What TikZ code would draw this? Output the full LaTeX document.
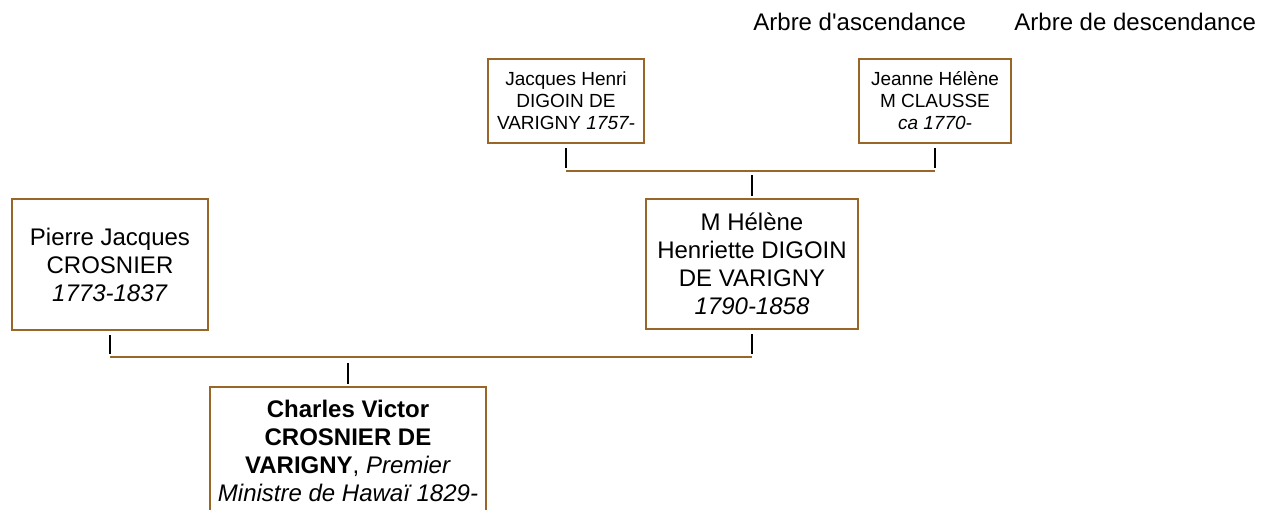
\documentclass[tikz,border=0pt]{standalone}
\usepackage{fontspec}
\setmainfont{Liberation Sans}
\usepackage{xcolor}
\definecolor{treebrown}{RGB}{153,102,40}

\begin{document}
\begin{tikzpicture}[
  x=0.5pt, y=-0.5pt,
  person/.style={draw=treebrown, line width=1pt, align=center, inner sep=0pt, font=\fontsize{12}{14}\selectfont},
  small/.style={person, font=\fontsize{9.5}{11}\selectfont},
  label/.style={anchor=base west, inner sep=0pt, font=\fontsize{12}{14}\selectfont},
  bar/.style={draw=treebrown, line width=1pt},
  tick/.style={draw=black, line width=1pt}
]
  \clip (0,0) rectangle (1272,509);

  \node[label] (asc) at (753,30) {Arbre d\textquotesingle ascendance};
  \node[label] (desc) at (1014,30) {Arbre de descendance};

  \node[small, minimum width=78pt, minimum height=42pt] (jacques) at (566,101) {Jacques Henri\\DIGOIN DE\\VARIGNY \textit{1757-}};
  \node[small, minimum width=76pt, minimum height=42pt] (jeanne) at (935,101) {Jeanne Hélène\\M CLAUSSE\\\textit{ca 1770-}};
  \node[person, minimum width=106pt, minimum height=65pt] (helene) at (752,264) {M Hélène\\Henriette DIGOIN\\DE VARIGNY\\\textit{1790-1858}};
  \node[person, minimum width=98pt, minimum height=65.5pt] (pierre) at (110,264.5) {Pierre Jacques\\CROSNIER\\\textit{1773-1837}};
  \node[person, minimum width=138pt, minimum height=64pt] (charles) at (348,451) {\textbf{Charles Victor}\\\textbf{CROSNIER DE}\\\textbf{VARIGNY}, \textit{Premier}\\\textit{Ministre de Hawaï 1829-}};

  % parents of M Helene
  \coordinate (topbar) at (752,171);
  \draw[tick] ([yshift=-2pt]jacques.south) -- ([yshift=1.5pt]jacques.south |- topbar);
  \draw[tick] ([yshift=-2pt]jeanne.south) -- ([yshift=1.5pt]jeanne.south |- topbar);
  \draw[bar] (jacques.south |- topbar) -- (jeanne.south |- topbar);
  \draw[tick] ([yshift=-2pt]helene.north |- topbar) -- ([yshift=1pt]helene.north);

  % parents of Charles
  \coordinate (lowbar) at (348,357);
  \draw[tick] ([yshift=-2pt]pierre.south) -- ([yshift=1.5pt]pierre.south |- lowbar);
  \draw[tick] ([yshift=-2pt]helene.south) -- ([yshift=1.5pt]helene.south |- lowbar);
  \draw[bar] (pierre.south |- lowbar) -- (helene.south |- lowbar);
  \draw[tick] ([yshift=-3pt]charles.north |- lowbar) -- ([yshift=1pt]charles.north);
\end{tikzpicture}
\end{document}
